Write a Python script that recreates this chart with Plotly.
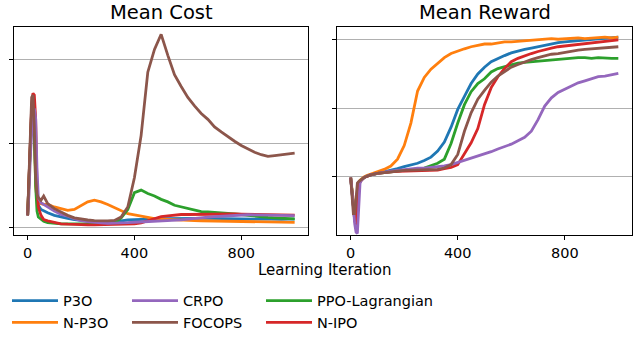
import plotly.graph_objects as go

# ---------------- data ----------------
iters = [0, 5, 10, 15, 20, 25, 30, 35, 40, 50, 60, 75, 100, 125, 150, 175, 200, 225, 250,
         275, 300, 325, 350, 375, 400, 425, 450, 475, 500, 525, 550, 575, 600, 625, 650,
         675, 700, 725, 750, 775, 800, 825, 850, 875, 900, 925, 950, 975, 1000]

series_names = ["P3O", "N-P3O", "PPO-Lagrangian", "N-IPO", "CRPO", "FOCOPS"]
series_colors = ["#1f77b4", "#ff7f0e", "#2ca02c", "#d62728", "#9467bd", "#8c564b"]

cost_p3o = [0.15, 0.50, 1.00, 1.40, 1.50, 1.30, 0.60, 0.35, 0.27,
            0.22, 0.20, 0.18, 0.15, 0.13, 0.115, 0.10, 0.088, 0.078, 0.072, 0.070, 0.072, 0.075, 0.085, 0.095, 0.100,
            0.103, 0.106, 0.108, 0.110, 0.112, 0.114, 0.115, 0.117, 0.116, 0.115, 0.114, 0.112, 0.110, 0.108, 0.110,
            0.107, 0.109, 0.106, 0.108, 0.105, 0.107, 0.104, 0.106, 0.105]
cost_np3o = [0.15, 0.50, 1.00, 1.40, 1.50, 1.20, 0.50, 0.33, 0.30,
             0.29, 0.28, 0.28, 0.25, 0.23, 0.21, 0.22, 0.27, 0.31, 0.33, 0.31, 0.28, 0.24, 0.20, 0.17, 0.155,
             0.14, 0.125, 0.112, 0.105, 0.100, 0.098, 0.095, 0.090, 0.088, 0.086, 0.085, 0.083, 0.082, 0.080, 0.080,
             0.078, 0.076, 0.075, 0.073, 0.072, 0.070, 0.069, 0.067, 0.066]
cost_ppol = [0.15, 0.50, 0.95, 1.35, 1.45, 1.10, 0.50, 0.20, 0.13,
             0.10, 0.08, 0.065, 0.055, 0.05, 0.05, 0.048, 0.05, 0.05, 0.05, 0.052, 0.055, 0.06, 0.12, 0.22, 0.42,
             0.45, 0.41, 0.38, 0.34, 0.31, 0.27, 0.25, 0.235, 0.21, 0.195, 0.19, 0.185, 0.18, 0.175, 0.17,
             0.16, 0.15, 0.14, 0.13, 0.125, 0.12, 0.115, 0.11, 0.108]
cost_nipo = [0.15, 0.50, 1.00, 1.45, 1.60, 1.58, 1.30, 0.50, 0.25,
             0.15, 0.10, 0.085, 0.065, 0.05, 0.045, 0.04, 0.04, 0.038, 0.038, 0.04, 0.04, 0.04, 0.042, 0.045, 0.05,
             0.06, 0.085, 0.115, 0.135, 0.145, 0.155, 0.16, 0.16, 0.162, 0.163, 0.165, 0.165, 0.164, 0.165, 0.166,
             0.165, 0.163, 0.162, 0.160, 0.158, 0.156, 0.155, 0.153, 0.152]
cost_crpo = [0.15, 0.40, 0.85, 1.20, 1.38, 1.42, 1.30, 0.70, 0.36,
             0.30, 0.28, 0.25, 0.20, 0.16, 0.14, 0.11, 0.087, 0.075, 0.065, 0.06, 0.055, 0.055, 0.058, 0.063, 0.068,
             0.072, 0.075, 0.078, 0.08, 0.085, 0.09, 0.097, 0.105, 0.115, 0.12, 0.13, 0.135, 0.14, 0.148, 0.152,
             0.155, 0.157, 0.156, 0.155, 0.154, 0.152, 0.151, 0.150, 0.148]
cost_focops = [0.15, 0.60, 1.15, 1.55, 1.58, 1.20, 0.60, 0.40, 0.36,
               0.33, 0.38, 0.29, 0.23, 0.19, 0.15, 0.12, 0.105, 0.095, 0.088, 0.085, 0.085, 0.09, 0.13, 0.25, 0.60,
               1.10, 1.85, 2.12, 2.30, 2.05, 1.82, 1.68, 1.55, 1.45, 1.36, 1.29, 1.20, 1.14, 1.08, 1.03,
               0.98, 0.94, 0.90, 0.87, 0.85, 0.86, 0.87, 0.88, 0.89]

rew_p3o = [-0.02, -0.20, -0.45, -0.65, -0.70, -0.45, -0.10, -0.07, -0.05,
           -0.02, 0.00, 0.02, 0.04, 0.06, 0.08, 0.11, 0.14, 0.16, 0.19, 0.23, 0.28, 0.37, 0.50, 0.72, 0.98,
           1.17, 1.36, 1.50, 1.60, 1.68, 1.73, 1.77, 1.81, 1.84, 1.86, 1.88, 1.90, 1.93, 1.95, 1.96,
           1.97, 1.98, 1.99, 2.00, 2.01, 2.02, 2.02, 2.03, 2.04]
rew_np3o = [-0.02, -0.20, -0.40, -0.55, -0.60, -0.30, -0.09, -0.06, -0.04,
            -0.01, 0.01, 0.03, 0.06, 0.10, 0.15, 0.25, 0.45, 0.78, 1.25, 1.45, 1.57, 1.66, 1.74, 1.80, 1.84,
            1.87, 1.90, 1.92, 1.94, 1.94, 1.96, 1.97, 1.97, 1.98, 1.99, 2.00, 2.00, 2.01, 2.02, 2.01,
            2.02, 2.02, 2.03, 2.02, 2.03, 2.03, 2.04, 2.03, 2.04]
rew_ppol = [-0.02, -0.20, -0.45, -0.62, -0.65, -0.40, -0.10, -0.07, -0.05,
            -0.02, 0.00, 0.02, 0.04, 0.055, 0.065, 0.075, 0.085, 0.09, 0.10, 0.12, 0.15, 0.19, 0.25, 0.48, 0.78,
            1.05, 1.24, 1.36, 1.43, 1.53, 1.58, 1.61, 1.64, 1.66, 1.67, 1.68, 1.69, 1.70, 1.71, 1.72,
            1.72, 1.73, 1.74, 1.74, 1.73, 1.74, 1.73, 1.73, 1.73]
rew_nipo = [-0.02, -0.20, -0.45, -0.65, -0.72, -0.50, -0.12, -0.08, -0.06,
            -0.02, 0.00, 0.02, 0.04, 0.055, 0.065, 0.07, 0.075, 0.08, 0.085, 0.088, 0.09, 0.09, 0.11, 0.13, 0.17,
            0.32, 0.49, 0.70, 1.05, 1.30, 1.46, 1.58, 1.68, 1.73, 1.77, 1.80, 1.83, 1.86, 1.88, 1.90,
            1.91, 1.93, 1.94, 1.95, 1.96, 1.97, 1.98, 1.99, 2.00]
rew_crpo = [-0.02, -0.20, -0.45, -0.70, -0.82, -0.84, -0.50, -0.10, -0.06,
            -0.02, 0.00, 0.02, 0.04, 0.06, 0.075, 0.085, 0.10, 0.11, 0.12, 0.12, 0.13, 0.13, 0.15, 0.17, 0.20,
            0.24, 0.27, 0.30, 0.33, 0.36, 0.40, 0.43, 0.47, 0.52, 0.57, 0.66, 0.83, 1.03, 1.15, 1.23,
            1.28, 1.32, 1.37, 1.40, 1.43, 1.46, 1.47, 1.49, 1.51]
rew_focops = [-0.02, -0.30, -0.55, -0.55, -0.30, -0.10, -0.08, -0.06, -0.05,
              -0.02, 0.00, 0.02, 0.04, 0.055, 0.065, 0.075, 0.085, 0.09, 0.095, 0.10, 0.10, 0.10, 0.12, 0.17, 0.32,
              0.66, 0.93, 1.13, 1.26, 1.38, 1.47, 1.53, 1.60, 1.64, 1.68, 1.71, 1.74, 1.77, 1.79, 1.80,
              1.82, 1.83, 1.85, 1.86, 1.87, 1.88, 1.88, 1.89, 1.90]

cost_series = [cost_p3o, cost_np3o, cost_ppol, cost_nipo, cost_crpo, cost_focops]
reward_series = [rew_p3o, rew_np3o, rew_ppol, rew_nipo, rew_crpo, rew_focops]
for s in cost_series + reward_series:
    assert len(s) == len(iters), len(s)

x_ticks = [0, 400, 800]
y_ticks = [0, 1, 2]
panel_titles = ["Mean Cost", "Mean Reward"]
x_label = "Learning Iteration"

# legend column assignment
legend_of = {"P3O": "legend", "N-P3O": "legend", "CRPO": "legend2", "FOCOPS": "legend2",
             "PPO-Lagrangian": "legend3", "N-IPO": "legend3"}

# ---------------- figure ----------------
W, H = 644, 339
FONT = "DejaVu Sans"
LW = 2.8
fig = go.Figure()

for name, color, yc, yr in zip(series_names, series_colors, cost_series, reward_series):
    fig.add_trace(go.Scatter(x=iters, y=yc, mode="lines", name=name,
                             line=dict(color=color, width=LW),
                             xaxis="x", yaxis="y", showlegend=True,
                             legend=legend_of[name]))
    fig.add_trace(go.Scatter(x=iters, y=yr, mode="lines", name=name,
                             line=dict(color=color, width=LW),
                             xaxis="x2", yaxis="y2", showlegend=False))

def px_x(p):
    return p / W

def px_y(p):
    return 1 - p / H

ydom = [px_y(238.3), px_y(27.3)]
axis_common = dict(showline=True, linecolor="black", linewidth=1, mirror=True,
                   ticks="outside", ticklen=4, tickwidth=1, tickcolor="black",
                   zeroline=False)

fig.update_layout(
    xaxis=dict(domain=[px_x(14.3), px_x(308)], range=[-50, 1050], tickvals=x_ticks,
               showgrid=False, anchor="y",
               tickfont=dict(family=FONT, size=14.5, color="black"), **axis_common),
    yaxis=dict(domain=ydom, range=[-0.089, 2.387], tickvals=y_ticks, showticklabels=False,
               showgrid=True, gridcolor="#b0b0b0", gridwidth=1, anchor="x", **axis_common),
    xaxis2=dict(domain=[px_x(337.3), px_x(631.7)], range=[-50, 1050], tickvals=x_ticks,
                showgrid=False, anchor="y2",
                tickfont=dict(family=FONT, size=14.5, color="black"), **axis_common),
    yaxis2=dict(domain=ydom, range=[-0.87, 2.19], tickvals=y_ticks, showticklabels=False,
                showgrid=True, gridcolor="#b0b0b0", gridwidth=1, anchor="x2", **axis_common),
)

annotations = []
for title, cx in zip(panel_titles, [161, 484.5]):
    annotations.append(dict(text=title, x=px_x(cx), y=px_y(12.5), xref="paper", yref="paper",
                            xanchor="center", yanchor="middle", showarrow=False,
                            font=dict(family=FONT, size=19.5, color="black")))
annotations.append(dict(text=x_label, x=px_x(325), y=px_y(273.5), xref="paper", yref="paper",
                        xanchor="center", yanchor="middle", showarrow=False, borderpad=0,
                        font=dict(family=FONT, size=15, color="black")))

legend_common = dict(orientation="v", yanchor="top", xanchor="left", bgcolor="rgba(0,0,0,0)",
                     font=dict(family=FONT, size=14.5, color="black"), itemwidth=46,
                     tracegroupgap=0)
fig.update_layout(
    width=W, height=H, margin=dict(l=0, r=0, t=0, b=0),
    paper_bgcolor="white", plot_bgcolor="white",
    annotations=annotations,
    legend=dict(x=px_x(7), y=px_y(288), **legend_common),
    legend2=dict(x=px_x(127), y=px_y(288), **legend_common),
    legend3=dict(x=px_x(261), y=px_y(288), **legend_common),
    showlegend=True,
)

fig.write_html("out.html", config={"displayModeBar": False},
               post_script="document.body.style.margin='0px';")
